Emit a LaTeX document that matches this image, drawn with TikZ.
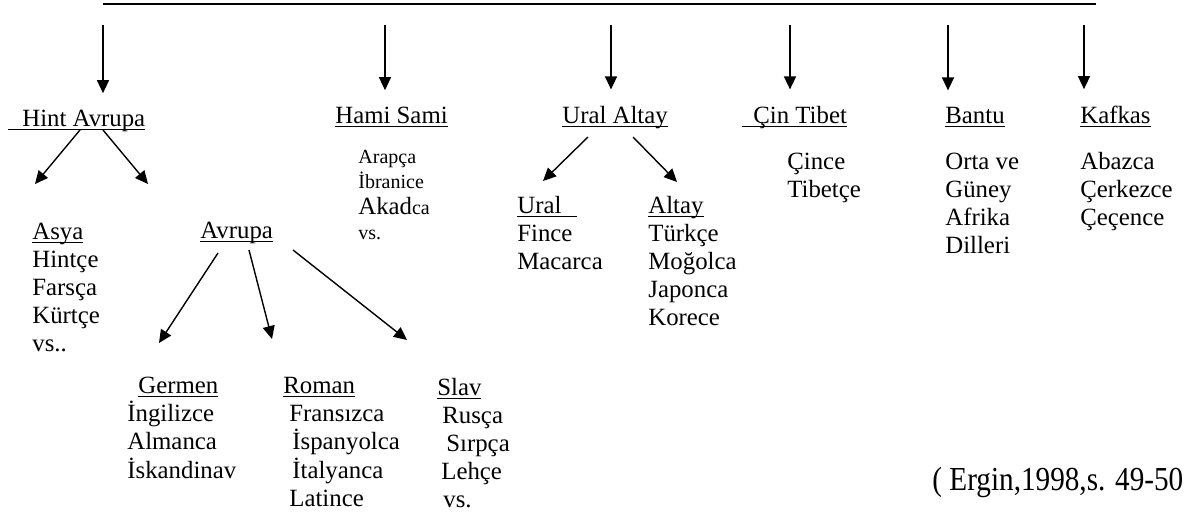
\documentclass[tikz,border=0pt]{standalone}
\usepackage{fontspec}
\usepackage{graphicx}
\setmainfont{Liberation Serif}
\usetikzlibrary{arrows.meta,positioning}

\newcommand{\grp}[1]{\begin{tabular}[t]{@{}l@{}}#1\end{tabular}}
\newsavebox{\ulbox}
\newcommand{\uln}[1]{\sbox\ulbox{#1}\rlap{\rule[-2pt]{\wd\ulbox}{0.75pt}}\usebox\ulbox}

\begin{document}
\begin{tikzpicture}[x=0.5pt,y=-0.5pt,
    lbl/.style={inner sep=0pt,anchor=base west,font=\fontsize{12.4}{14}\selectfont},
    small/.style={lbl,font=\fontsize{10}{12.8}\selectfont},
    arr/.style={-{Triangle[length=6.5pt,width=6pt]},line width=0.7pt}]

  \useasboundingbox (0,0) rectangle (1185,515);

  \draw[line width=1pt] (103,4) -- (1096,4);

  % language families
  \node[lbl] (hint) at (8,126) {\uln{\hspace*{7pt}Hint Avrupa}};
  \node[lbl] (hami) at (335,123) {\uln{Hami Sami}};
  \node[lbl] (uralaltay) at (562,123) {\uln{Ural Altay}};
  \node[lbl] (cin) at (742,123) {\uln{\hspace*{5.5pt}Çin Tibet}};
  \node[lbl] (bantu) at (945,123) {\uln{Bantu}};
  \node[lbl] (kafkas) at (1080,123) {\uln{Kafkas}};

  \node[small] (hamilist) at (358,163) {\grp{Arapça\\İbranice\\{\fontsize{12.4}{12.8}\selectfont Akad}ca\\vs.}};
  \node[lbl] (cinlist) at (787,169) {\grp{Çince\\Tibetçe}};
  \node[lbl] (bantulist) at (945,169) {\grp{Orta ve\\Güney\\Afrika\\Dilleri}};
  \node[lbl] (kafkaslist) at (1080,169) {\grp{Abazca\\Çerkezce\\Çeçence}};

  % sub groups
  \node[lbl] (asya) at (32,239) {\grp{\uln{Asya}\\Hintçe\\Farsça\\Kürtçe\\vs..}};
  \node[lbl] (avrupa) at (200,238) {\uln{Avrupa}};
  \node[lbl] (ural) at (517,213) {\grp{\uln{Ural\hspace*{8pt}}\\Fince\\Macarca}};
  \node[lbl] (altay) at (648,213) {\grp{\uln{Altay}\\Türkçe\\Moğolca\\Japonca\\Korece}};

  \node[lbl] (germen) at (127,393) {\grp{\hspace*{5.5pt}\uln{Germen}\\İngilizce\\Almanca\\İskandinav}};
  \node[lbl] (roman) at (283,393) {\grp{\uln{Roman}\\\hspace*{3pt}Fransızca\\\hspace*{4.5pt}İspanyolca\\\hspace*{4.5pt}İtalyanca\\\hspace*{3pt}Latince}};
  \node[lbl] (slav) at (437,395) {\grp{\uln{Slav}\\\hspace*{2.5pt}Rusça\\\hspace*{4.5pt}Sırpça\\\hspace*{2pt}Lehçe\\\hspace*{3pt}vs.}};

  \node[lbl] (kaynak) at (932,490) {\fontsize{14.6}{16}\selectfont\scalebox{1}[1.15]{( Ergin,1998,s. 49-50}};

  % arrows from the top line
  \foreach \x/\n in {103/hint,385/hami,611/uralaltay,790/cin,948/bantu,1084/kafkas}{
    \coordinate (top-\n) at (\x,25);
    \draw[arr,shorten >=8pt] (top-\n) -- (top-\n |- \n.north);
  }

  \draw[arr] ([shift={(72,4)}]hint.base west) -- ++(-45,54);
  \draw[arr] ([shift={(95,4)}]hint.base west) -- ++(45,54);

  \draw[arr] ([shift={(18,15)}]avrupa.base west) -- ++(-59,90);
  \draw[arr] ([shift={(49,12)}]avrupa.base west) -- ++(23,89);
  \draw[arr] ([shift={(93,12)}]avrupa.base west) -- ++(114,90);

  \draw[arr] ([shift={(26,14)}]uralaltay.base west) -- ++(-45,44);
  \draw[arr] ([shift={(71,14)}]uralaltay.base west) -- ++(44,45);

\end{tikzpicture}
\end{document}
